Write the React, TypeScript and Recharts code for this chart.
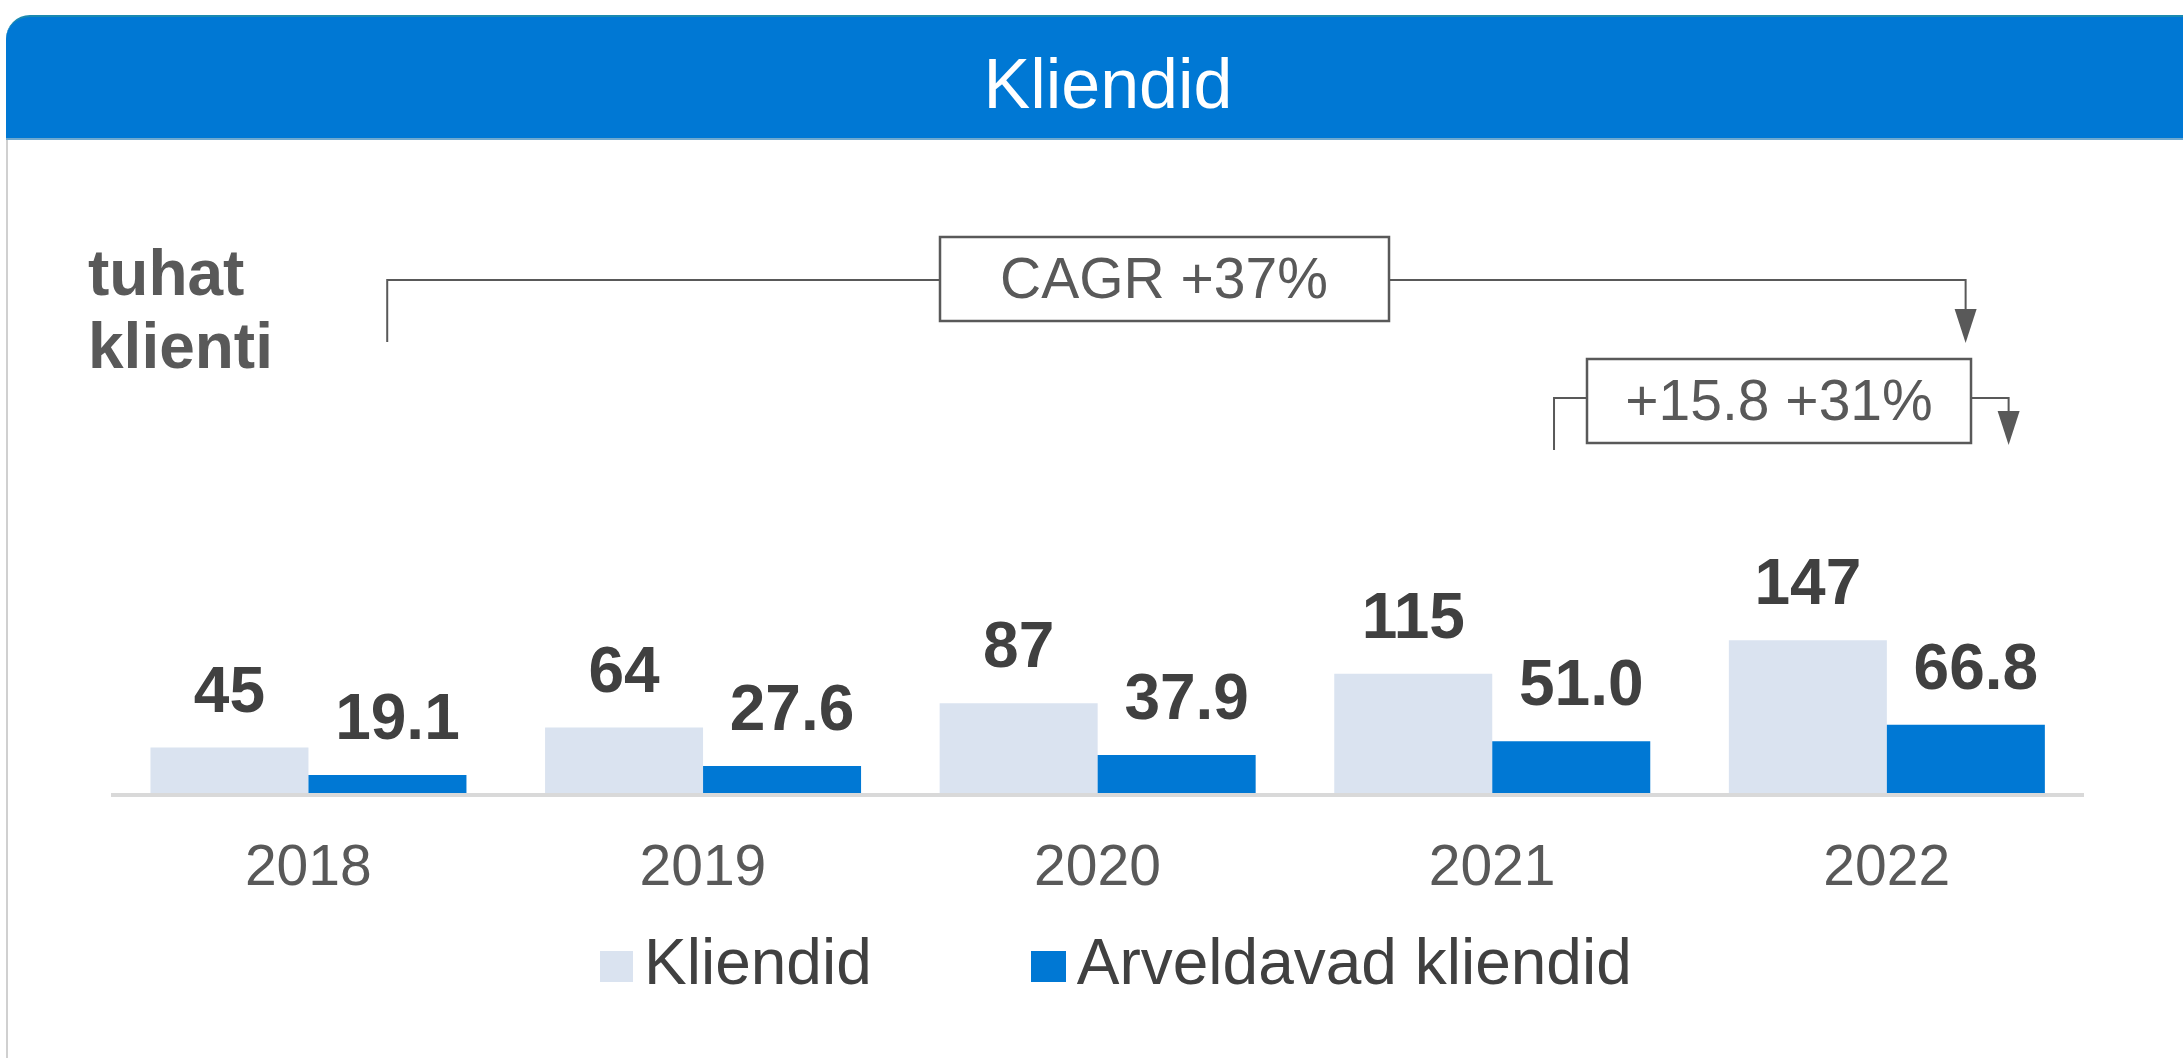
import React from 'react';
import { BarChart, Bar, XAxis, YAxis, Legend, LabelList } from 'recharts';

const years = ['2018', '2019', '2020', '2021', '2022'];
const kliendid = [45, 64, 87, 115, 147];
const arveldavad = [19.1, 27.6, 37.9, 51.0, 66.8];
const seriesNames = ['Kliendid', 'Arveldavad kliendid'];
const titleText = 'Kliendid';
const unitLines = ['tuhat', 'klienti'];
const cagrText = 'CAGR +37%';
const lastYearText = '+15.8 +31%';

const data = years.map((year, i) => ({ year, kliendid: kliendid[i], arveldavad: arveldavad[i] }));

const W = 2183;
const H = 1058;
const margin = { top: 163, right: 99, bottom: 233, left: 111 };
const FONT = '"Liberation Sans", Arial, Helvetica, sans-serif';
const LIGHT = '#DAE3F0';
const BLUE = '#0078D4';
const GREY = '#595959';
const DARK = '#404040';

// where the bars land, used to hang the brackets on them
const band = (W - margin.left - margin.right) / years.length;
const barW = band * 0.4;
const barCenter = (i: number, s: number) => margin.left + band * (i + 0.5) + (s === 0 ? -1 : 1) * (barW / 2);

const YearTick = ({ x, y, payload }: any) => (
  <text x={x} y={y + 82} textAnchor="middle" fontSize={57} fill={GREY} fontFamily={FONT}>
    {payload.value}
  </text>
);

const makeLabel = (dx: number, digits: number) => (props: any) => {
  const { x, y, width, value } = props;
  return (
    <text
      x={Number(x) + Number(width) / 2 + dx}
      y={Number(y) - 36}
      textAnchor="middle"
      fontSize={64}
      fontWeight="bold"
      fill={DARK}
      fontFamily={FONT}
    >
      {Number(value).toFixed(digits)}
    </text>
  );
};

const LegendContent = () => (
  <div style={{ display: 'flex', alignItems: 'flex-start', fontFamily: FONT, fontSize: 64, lineHeight: '64px', color: DARK }}>
    {seriesNames.map((name, i) => (
      <div key={name} style={{ display: 'flex', alignItems: 'flex-start', marginRight: i === 0 ? 159 : 0 }}>
        <div style={{ width: i === 0 ? 33 : 35, height: 31, marginTop: 21, marginRight: 11, background: i === 0 ? LIGHT : BLUE }} />
        <span style={{ whiteSpace: 'nowrap' }}>{name}</span>
      </div>
    ))}
  </div>
);

const Arrow = ({ x, tip }: { x: number; tip: number }) => (
  <polygon points={`${x - 11},${tip - 34} ${x + 11},${tip - 34} ${x},${tip}`} fill={GREY} />
);

const Annotations = () => {
  const x0 = barCenter(0, 1);
  const x1 = barCenter(4, 1);
  const x2 = barCenter(3, 1) - 17;
  const x3 = barCenter(4, 1) + 43;
  return (
    <svg width={W} height={H} style={{ position: 'absolute', left: 0, top: 0, pointerEvents: 'none' }}>
      <text x={1108} y={108} textAnchor="middle" fontSize={70} fill="#ffffff" fontFamily={FONT}>{titleText}</text>
      {unitLines.map((t, i) => (
        <text key={t} x={88} y={295 + i * 73} fontSize={64} fontWeight="bold" fill={GREY} fontFamily={FONT}>{t}</text>
      ))}

      <g stroke={GREY} strokeWidth={2} fill="none">
        <polyline points={`${x0},342 ${x0},280 940,280`} />
        <polyline points={`1389,280 ${x1},280 ${x1},312`} />
        <rect x={940} y={237} width={449} height={84} strokeWidth={2.5} fill="#ffffff" />
        <polyline points={`${x2},450 ${x2},398 1587,398`} />
        <polyline points={`1971,398 ${x3},398 ${x3},414`} />
        <rect x={1587} y={359} width={384} height={84} strokeWidth={2.5} fill="#ffffff" />
      </g>
      <Arrow x={x1} tip={343} />
      <Arrow x={x3} tip={445} />
      <text x={1164} y={298} textAnchor="middle" fontSize={57} fill={GREY} fontFamily={FONT}>{cagrText}</text>
      <text x={1779} y={420} textAnchor="middle" fontSize={57} fill={GREY} fontFamily={FONT}>{lastYearText}</text>
    </svg>
  );
};

export default function App() {
  return (
    <div style={{ position: 'absolute', left: 0, top: 0, width: W, height: H, background: '#ffffff', overflow: 'hidden', fontFamily: FONT }}>
      <div style={{ position: 'absolute', left: 6, top: 140, width: W, height: H - 140, borderLeft: '2px solid #D0D0D0', background: '#ffffff' }} />
      <div
        style={{
          position: 'absolute',
          left: 6,
          top: 15,
          width: W,
          height: 125,
          background: BLUE,
          borderTopLeftRadius: 24,
          borderTop: '2px solid #1B8AB0',
          borderBottom: '2px solid #6FA9CF',
          boxSizing: 'border-box',
        }}
      />
      <div style={{ position: 'absolute', left: 0, top: 0 }}>
        <BarChart width={W} height={H} data={data} margin={margin} barCategoryGap="10%" barGap={0}>
          <XAxis dataKey="year" axisLine={{ stroke: '#D9D9D9', strokeWidth: 4 }} tickLine={false} tick={<YearTick />} interval={0} />
          <YAxis hide domain={[0, 600]} />
          <Legend
            layout="horizontal"
            verticalAlign="middle"
            align="center"
            content={<LegendContent />}
            wrapperStyle={{ top: 930, left: 600, width: 1200 }}
          />
          <Bar dataKey="kliendid" name={seriesNames[0]} fill={LIGHT} isAnimationActive={false}>
            <LabelList dataKey="kliendid" content={makeLabel(0, 0)} />
          </Bar>
          <Bar dataKey="arveldavad" name={seriesNames[1]} fill={BLUE} isAnimationActive={false}>
            <LabelList dataKey="arveldavad" content={makeLabel(10, 1)} />
          </Bar>
        </BarChart>
      </div>
      <Annotations />
    </div>
  );
}
